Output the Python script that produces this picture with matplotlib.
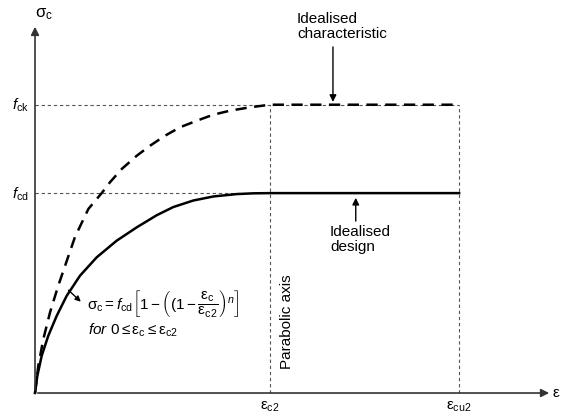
import matplotlib
matplotlib.use("Agg")
import matplotlib.pyplot as plt

plt.rcParams['font.family'] = ['Liberation Sans', 'DejaVu Sans']
plt.rcParams['mathtext.fontset'] = 'custom'
plt.rcParams['mathtext.rm'] = 'Liberation Sans'
plt.rcParams['mathtext.it'] = 'Liberation Sans:italic'
plt.rcParams['mathtext.default'] = 'regular'

# strain (per mille) and stress levels
eps_c2 = 2.0
eps_cu2 = 3.61
f_ck = 30.0
f_cd = 20.8

# points
eps_design = [0, 0.020, 0.057, 0.113, 0.185, 0.270, 0.383, 0.525, 0.695, 0.866,
              1.036, 1.177, 1.347, 1.517, 1.717, 1.86, 2.0]
sig_design = [0, 1.80, 3.88, 5.96, 8.04, 10.12, 12.21, 14.12, 15.85, 17.24,
              18.50, 19.35, 20.03, 20.45, 20.70, 20.78, 20.8]
eps_char = [0, 0.028, 0.071, 0.128, 0.198, 0.270, 0.340, 0.454, 0.568, 0.638,
            0.738, 0.866, 0.979, 1.106, 1.234, 1.376, 1.517, 1.660, 1.830, 2.0]
sig_char = [0, 2.84, 5.62, 8.40, 11.17, 13.74, 16.23, 19.15, 20.81, 21.93,
            23.31, 24.69, 25.73, 26.77, 27.65, 28.33, 28.96, 29.38, 29.73, 30.0]

fig = plt.figure(figsize=(5.63, 4.14), dpi=100)
ax = fig.add_axes([0, 0, 1, 1])
ax.set_xlim(-0.298, 4.494)
ax.set_ylim(-2.08, 41.0)
ax.axis('off')

# axes with arrows
ax.annotate('', xy=(4.40, 0), xytext=(0, 0),
            arrowprops=dict(arrowstyle='-|>', color='#333333', lw=1.2, mutation_scale=12))
ax.annotate('', xy=(0, 38.4), xytext=(0, 0),
            arrowprops=dict(arrowstyle='-|>', color='#333333', lw=1.2, mutation_scale=12))

# thin dashed guide lines
guide = dict(color='#555555', lw=0.8, ls=(0, (3, 2.5)))
ax.plot([0, eps_cu2], [f_ck, f_ck], **guide)
ax.plot([0, eps_c2], [f_cd, f_cd], **guide)
ax.plot([eps_c2, eps_c2], [0, f_ck], **guide)
ax.plot([eps_cu2, eps_cu2], [0, f_ck], **guide)

# curves
ax.plot(eps_char + [eps_cu2], sig_char + [f_ck], color='black', lw=1.8,
        ls=(0, (4.5, 3)), solid_joinstyle='round')
ax.plot(eps_design + [eps_cu2], sig_design + [f_cd], color='black', lw=1.8,
        solid_joinstyle='round')

# axis labels
ax.text(0.08, 39.5, r'$\sigma_c$', fontsize=12, ha='center', va='center')
ax.text(-0.12, f_ck, r'$\mathit{f}_{ck}$', fontsize=11, ha='center', va='center')
ax.text(-0.12, f_cd, r'$\mathit{f}_{cd}$', fontsize=11, ha='center', va='center')
ax.text(eps_c2, -1.35, r'$\varepsilon_{c2}$', fontsize=11, ha='center', va='center')
ax.text(eps_cu2, -1.35, r'$\varepsilon_{cu2}$', fontsize=11, ha='center', va='center')
ax.text(4.44, 0.1, r'$\varepsilon$', fontsize=11, ha='center', va='center')

# annotations
ax.text(2.23, 39.8, 'Idealised\ncharacteristic', fontsize=11, ha='left', va='top',
        linespacing=1.1)
ax.annotate('', xy=(2.536, f_ck), xytext=(2.536, 36.3),
            arrowprops=dict(arrowstyle='-|>', color='black', lw=1.0, mutation_scale=10))
ax.text(2.51, 17.6, 'Idealised\ndesign', fontsize=11, ha='left', va='top',
        linespacing=1.1)
ax.annotate('', xy=(2.73, f_cd - 0.2), xytext=(2.73, 17.6),
            arrowprops=dict(arrowstyle='-|>', color='black', lw=1.0, mutation_scale=10))
ax.text(2.145, 7.5, 'Parabolic axis', fontsize=11, rotation=90, ha='center', va='center')

ax.annotate('', xy=(0.39, 9.5), xytext=(0.285, 10.7),
            arrowprops=dict(arrowstyle='-|>', color='black', lw=1.0, mutation_scale=8,
                            shrinkA=0, shrinkB=0))
ax.text(0.443, 9.45,
        r'$\sigma_c = \mathit{f}_{cd}\left[1 - \left((1 - \dfrac{\varepsilon_c}{\varepsilon_{c2}}\right)^{\mathit{n}}\right]$',
        fontsize=11, ha='left', va='center')
ax.text(0.45, 6.6, r'$\mathit{for}\ 0 \leq \varepsilon_c \leq \varepsilon_{c2}$',
        fontsize=11, ha='left', va='center')

fig.savefig('out.png', dpi=100)
